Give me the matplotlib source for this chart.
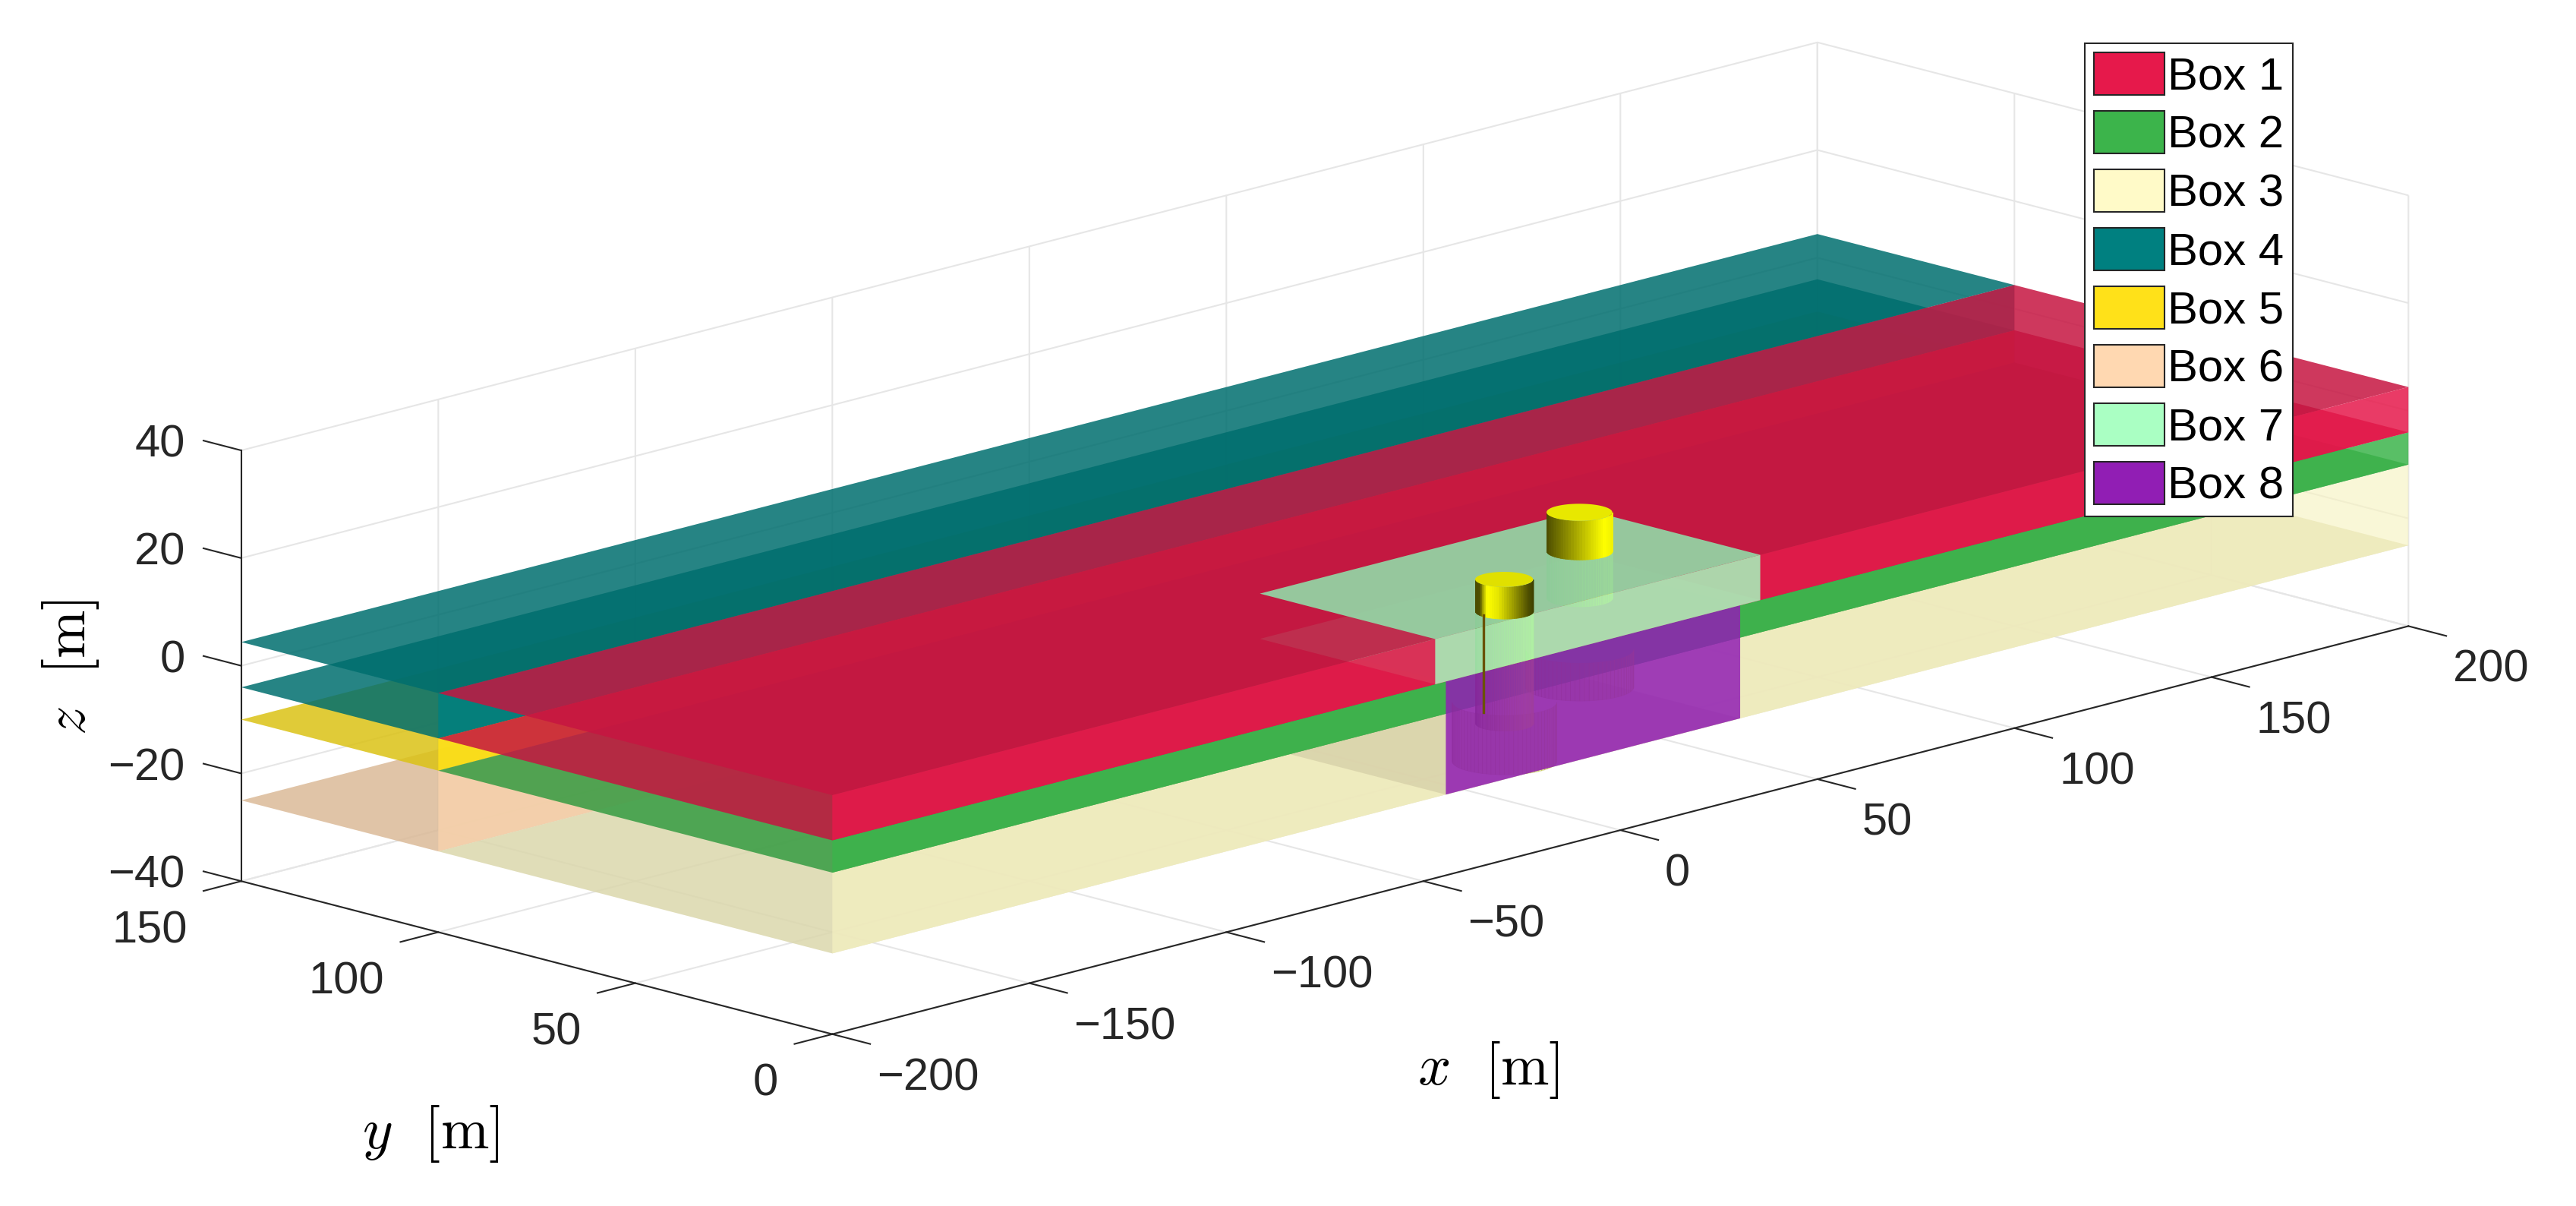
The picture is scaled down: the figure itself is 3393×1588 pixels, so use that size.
import numpy as np
import matplotlib
matplotlib.use('Agg')
import matplotlib.pyplot as plt
from matplotlib.colors import to_rgb
from matplotlib.patches import Patch
from mpl_toolkits.mplot3d.art3d import Poly3DCollection

W_PX, H_PX = 3393, 1588

plt.rcParams['font.family'] = ['Liberation Sans', 'DejaVu Sans']
plt.rcParams['mathtext.fontset'] = 'cm'
plt.rcParams['grid.color'] = '#e6e6e6'
plt.rcParams['grid.linewidth'] = 0.5
plt.rcParams['axes.edgecolor'] = '#262626'
plt.rcParams['axes.linewidth'] = 0.5
plt.rcParams['xtick.major.width'] = 0.5
plt.rcParams['ytick.major.width'] = 0.5

# Data
box_names = ['Box 1', 'Box 2', 'Box 3', 'Box 4', 'Box 5', 'Box 6', 'Box 7', 'Box 8']
box_colors = ['#e6194b', '#3cb44b', '#fffac8', '#008080', '#ffe119', '#ffd8b1', '#aaffc3', '#911eb4']
box_x0 = [-200, -200, -200, -200, -200, -200, -47, -44.3]
box_x1 = [200, 200, 200, 200, 200, 200, 35.5, 30.4]
box_y0 = [0, 0, 0, 100, 100, 100, 0, 0]
box_y1 = [100, 100, 100, 150, 150, 150, 44.5, 40]
box_z0 = [-4, -10, -25, -4, -10, -25, -4, -25]
box_z1 = [4.4, -4, -10, 4.4, -4, -10, 4.4, -4]
front_shade = [1.0, 1.0, 0.97, 1.0, 1.0, 0.97, 0.97, 1.0]
front_alpha = [0.85, 0.85, 0.65, 0.85, 0.85, 0.85, 0.85, 0.85]

cyl_x = [17.6, -23]
cyl_y = [28, 6.5]
cyl_r = [5.9, 5.2]
cyl_top = [10.4, 9.7]
cyl_deck = [3.2, 3.8]
cyl_bottom = [-5.5, -17]
base_r = [9.7, 9.4]
base_top = [-15, -13]
base_bottom = [-22, -24]

x_ticks = [-200, -150, -100, -50, 0, 50, 100, 150, 200]
y_ticks = [0, 50, 100, 150]
z_ticks = [-40, -20, 0, 20, 40]
x_labels = ['\u2212200', '\u2212150', '\u2212100', '\u221250', '0', '50', '100', '150', '200']
y_labels = ['0', '50', '100', '150']
z_labels = ['\u221240', '\u221220', '0', '20', '40']

FACE_ALPHA = 0.85
TOP_SHADE = 0.86
TICK_SIZE = 14.3
LABEL_SIZE = 18.3

fig = plt.figure(figsize=(W_PX / 300, H_PX / 300), dpi=300)
S = 3393
center_x, center_y = 1745, H_PX - 708.8
left = center_x - 0.5135 * S
bottom = center_y - 0.5135 * S
ax = fig.add_axes([left / W_PX, bottom / H_PX, S / W_PX, S / H_PX], projection='3d')
ax.set_proj_type('ortho')
ax.view_init(elev=15, azim=-135)
ax.set_box_aspect((400, 150, 80), zoom=0.9127)
ax.computed_zorder = False
ax.patch.set_alpha(0)

ax.set_xlim(-200, 200)
ax.set_ylim(0, 150)
ax.set_zlim(-40, 40)
ax.set_xticks(x_ticks, x_labels)
ax.set_yticks(y_ticks, y_labels)
ax.set_zticks(z_ticks, z_labels)

for axis in (ax.xaxis, ax.yaxis, ax.zaxis):
    axis.pane.set_visible(False)
    axis._axinfo['tick']['outward_factor'] = 0
    axis._axinfo['tick']['inward_factor'] = 0
ax.xaxis._axinfo['tick']['inward_factor'] = 0.8
ax.yaxis._axinfo['tick']['inward_factor'] = 0.3
ax.zaxis._axinfo['tick']['outward_factor'] = 0.8

# z axis on the left edge, ticks running along y
ax.zaxis.set_ticks_position('upper')
ax.zaxis._get_tickdir = lambda position: 1

ax.tick_params(axis='x', labelsize=TICK_SIZE, colors='#262626', pad=24)
ax.tick_params(axis='y', labelsize=TICK_SIZE, colors='#262626', pad=6.5)
ax.tick_params(axis='z', labelsize=TICK_SIZE, colors='#262626', pad=3)
for lab in ax.get_xticklabels():
    lab.set_ha('left')
    lab.set_va('center')
for lab in ax.get_yticklabels():
    lab.set_ha('right')
    lab.set_va('top')
for lab in ax.get_zticklabels():
    lab.set_ha('right')
    lab.set_va('baseline')

order = [0]


def add_face(verts, color, shade=1.0, alpha=FACE_ALPHA):
    rgb = np.array(to_rgb(color)) * shade
    poly = Poly3DCollection([verts], facecolors=[(*rgb, alpha)], edgecolors='none', linewidths=0)
    order[0] += 1
    poly.set_zorder(order[0])
    ax.add_collection3d(poly, autolim=False)


def flat_face(i, z, alpha=FACE_ALPHA):
    x0, x1, y0, y1 = box_x0[i], box_x1[i], box_y0[i], box_y1[i]
    add_face([(x0, y0, z), (x1, y0, z), (x1, y1, z), (x0, y1, z)], box_colors[i], TOP_SHADE, alpha)


def front_face(i):
    x0, x1, y, z0, z1 = box_x0[i], box_x1[i], box_y0[i], box_z0[i], box_z1[i]
    add_face([(x0, y, z0), (x1, y, z0), (x1, y, z1), (x0, y, z1)], box_colors[i], front_shade[i], front_alpha[i])


def add_cylinder(cx, cy, r, z0, z1, stops, alpha=1.0, cap=None):
    # facet brightness goes by horizontal position on screen
    t = np.linspace(0, 2 * np.pi, 73)
    for a, b in zip(t[:-1], t[1:]):
        m = (a + b) / 2
        if np.cos(m) + np.sin(m) > 0.05:  # far side not seen
            continue
        u = (np.cos(m) - np.sin(m)) / np.sqrt(2)
        v = np.interp(u, stops[0], stops[1])
        verts = [(cx + r * np.cos(a), cy + r * np.sin(a), z0), (cx + r * np.cos(b), cy + r * np.sin(b), z0),
                 (cx + r * np.cos(b), cy + r * np.sin(b), z1), (cx + r * np.cos(a), cy + r * np.sin(a), z1)]
        poly = Poly3DCollection([verts], facecolors=[(v, v, 0, alpha)], edgecolors=[(v, v, 0, alpha)], linewidths=0.2)
        order[0] += 1
        poly.set_zorder(order[0])
        ax.add_collection3d(poly, autolim=False)
    if cap is not None:
        verts = [(cx + r * np.cos(a), cy + r * np.sin(a), z1) for a in t]
        add_face(verts, cap, alpha=1.0)


stops_big = ([-1, 0.75, 1], [0.3, 1.0, 0.95])
stops_small = ([-1, -0.85, -0.6, -0.2, 0.85, 1], [0.3, 0.3, 1.0, 0.9, 0.3, 0.25])

# far strip, then near strip, each stacked from the bottom up
# stacked boxes share a plane, so only the lowest sheet of each plane is drawn
for i in [5, 4, 3]:
    flat_face(i, box_z0[i])
    if i == 3:
        flat_face(i, box_z1[i])
    front_face(i)
for i in [2, 1, 0]:
    flat_face(i, box_z0[i])
    if i == 0:
        # undersides of the deck and the top of Box 8 stay below the Box 1 top
        flat_face(7, box_z1[7], alpha=0.4)
        flat_face(6, box_z0[6])
        flat_face(i, box_z1[i])
    front_face(i)
    if i == 2:
        # footprint of Box 8, only a tint through the Box 3 sheets
        add_face([(box_x0[7], box_y0[7], box_z0[7]), (box_x1[7], box_y0[7], box_z0[7]),
                  (box_x1[7], box_y1[7], box_z0[7]), (box_x0[7], box_y1[7], box_z0[7])],
                 '#8a7a60', alpha=0.18)

# parts of the cylinders below the deck
for j in [0, 1]:
    add_cylinder(cyl_x[j], cyl_y[j], base_r[j], base_bottom[j], base_top[j], ([-1, 1], [0.45, 0.7]), alpha=0.3)
    add_cylinder(cyl_x[j], cyl_y[j], cyl_r[j], cyl_bottom[j], cyl_deck[j], stops_big, alpha=0.4)

front_face(7)
flat_face(6, box_z1[6], alpha=0.9)
front_face(6)

# parts above the deck
add_cylinder(cyl_x[0], cyl_y[0], cyl_r[0], cyl_deck[0], cyl_top[0], stops_big, cap='#e8e800')
add_cylinder(cyl_x[1], cyl_y[1], cyl_r[1], cyl_deck[1], cyl_top[1], stops_small, cap='#e0e000')
ax.plot([cyl_x[1] - 2.6] * 2, [cyl_y[1] + 2.6] * 2, [3, -15], color='#6a5200', lw=0.8, zorder=order[0] + 1)

fig.text(906 * 2.164 / W_PX, 1 - 651 * 2.164 / H_PX, r'$x\ \ [\mathrm{m}]$', fontsize=LABEL_SIZE, ha='center', va='center')
fig.text(262 * 2.164 / W_PX, 1 - 690 * 2.164 / H_PX, r'$y\ \ [\mathrm{m}]$', fontsize=LABEL_SIZE, ha='center', va='center')
fig.text(43 * 2.164 / W_PX, 1 - 406 * 2.164 / H_PX, r'$z\ \ [\mathrm{m}]$', fontsize=LABEL_SIZE, ha='center', va='center', rotation=90)

handles = [Patch(facecolor=c, edgecolor='#262626', linewidth=0.5) for c in box_colors]
leg = ax.legend(handles, box_names, loc='upper left', bbox_to_anchor=(2745.5 / W_PX, 1 - 57 / H_PX),
                bbox_transform=fig.transFigure, fontsize=14.4, fancybox=False, framealpha=1,
                edgecolor='#262626', borderaxespad=0, handlelength=1.55, handleheight=1.06,
                labelspacing=0.275, handletextpad=0.08, borderpad=0.2)
leg.get_frame().set_linewidth(0.5)
leg.set_zorder(order[0] + 10)

fig.savefig('out.png', dpi=300)
